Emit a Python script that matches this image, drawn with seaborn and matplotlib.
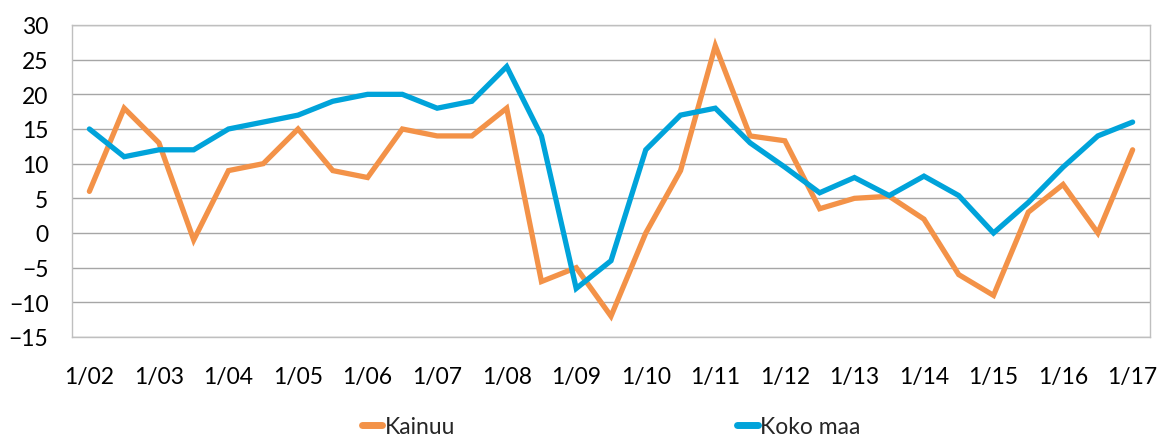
import matplotlib
matplotlib.use("Agg")
import matplotlib.pyplot as plt
import seaborn as sns
import numpy as np
import pandas as pd

# Data (half-year observations from 1/02 to 1/17)
tick_labels = ["1/02", "1/03", "1/04", "1/05", "1/06", "1/07", "1/08", "1/09",
               "1/10", "1/11", "1/12", "1/13", "1/14", "1/15", "1/16", "1/17"]
kainuu = [6, 18, 13, -1, 9, 10, 15, 9, 8, 15, 14, 14, 18, -7, -5, -12, 0, 9, 27,
          14, 13.3, 3.5, 5, 5.3, 2, -6, -9, 3, 7, 0, 12]
koko_maa = [15, 11, 12, 12, 15, 16, 17, 19, 20, 20, 18, 19, 24, 14, -8, -4, 12, 17,
            18, 13, 9.5, 5.8, 8, 5.4, 8.2, 5.4, 0, 4.4, 9.5, 14, 16]
series_names = ["Kainuu", "Koko maa"]
colors = ["#F39248", "#00A3DA"]

n = len(kainuu)
df = pd.DataFrame({
    "t": list(range(n)) * 2,
    "value": kainuu + koko_maa,
    "series": [series_names[0]] * n + [series_names[1]] * n,
})

sns.set_theme(style="white")
plt.rcParams["font.family"] = ["Lato", "DejaVu Sans"]

fig = plt.figure(figsize=(11.73, 4.39), dpi=100)
ax = fig.add_axes([72 / 1173, 1 - 338 / 439, (1150 - 72) / 1173, (338 - 26) / 439])

sns.lineplot(data=df, x="t", y="value", hue="series", palette=colors,
             linewidth=3.8, ax=ax, legend=False, solid_capstyle="round",
             solid_joinstyle="miter")

ax.set_xlim(-0.5, n - 0.5)
ax.set_ylim(-15, 30)
ax.set_yticks(range(-15, 31, 5))
ax.set_xticks(range(0, n, 2))
ax.set_xticklabels(tick_labels)
ax.set_xlabel("")
ax.set_ylabel("")
ax.grid(axis="y", color="#A6A6A6", linewidth=1.0)
ax.set_axisbelow(True)
for s in ax.spines.values():
    s.set_color("#BFBFBF")
    s.set_linewidth(1.0)
ax.tick_params(axis="both", length=0, labelsize=16.5, colors="black")
ax.tick_params(axis="y", pad=17)
ax.tick_params(axis="x", pad=21)

from matplotlib.lines import Line2D
handles = [Line2D([], [], color=c, linewidth=5, solid_capstyle="round") for c in colors]
fig.legend(handles, series_names, loc="center", bbox_to_anchor=(611 / 1173, 1 - 428 / 439),
           ncol=2, frameon=False, fontsize=16.5, handlelength=0.9, handletextpad=0.1,
           columnspacing=12.3)

fig.savefig("out.png", dpi=100)
